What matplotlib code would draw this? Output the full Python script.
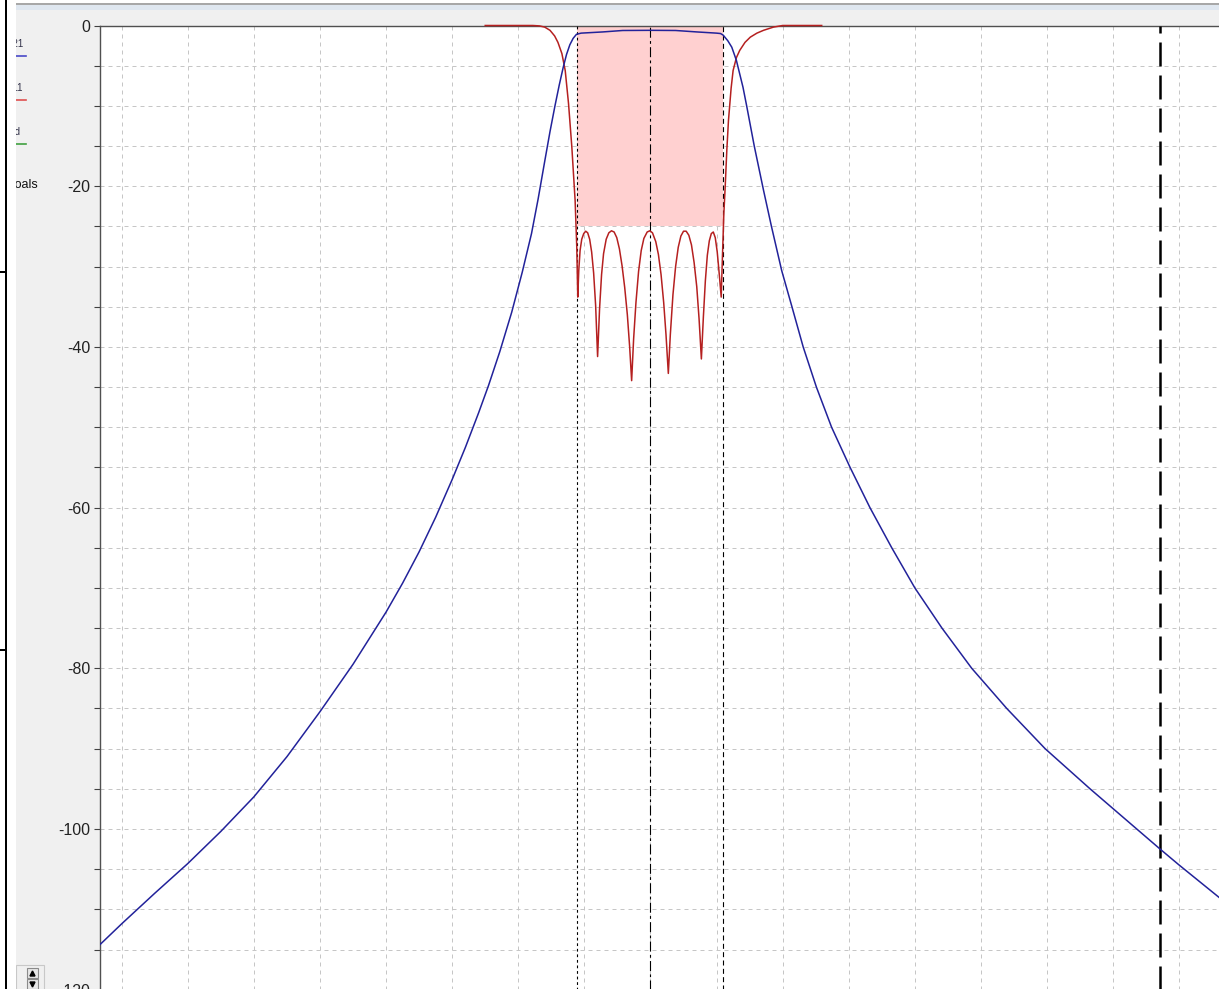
import matplotlib.pyplot as plt
from matplotlib.patches import Rectangle, Polygon
from matplotlib.ticker import MultipleLocator, FuncFormatter

plt.rcParams['font.family'] = ['Liberation Sans', 'DejaVu Sans']
plt.rcParams['axes.unicode_minus'] = False

W, H = 1219, 989

# S21 (blue), frequency in grid units, level in dB
s21_f = [-0.33, 0.0, 0.5, 1.0, 1.5, 2.0, 2.5, 3.0, 3.5, 4.0, 4.25, 4.5, 4.75,
         5.0, 5.2, 5.4, 5.55, 5.72, 5.9, 6.06, 6.2, 6.3, 6.4, 6.48, 6.555,
         6.62, 6.68, 6.73, 6.78, 6.83, 6.88, 6.95, 7.28, 7.58, 8.0, 8.38, 8.7,
         9.0, 9.06, 9.10, 9.17, 9.23, 9.30, 9.40, 9.455, 9.57, 9.71, 9.83,
         9.985, 10.14, 10.31, 10.51, 10.74, 11.02, 11.32, 11.65, 12.0, 12.41,
         12.86, 13.39, 13.97, 14.65, 15.3, 15.71, 16.0, 16.6]
s21_db = [-114.4, -111.8, -108.0, -104.3, -100.3, -96.0, -91.0, -85.4, -79.5,
          -73.0, -69.4, -65.5, -61.2, -56.5, -52.5, -48.2, -44.8, -40.6, -35.7,
          -30.7, -25.9, -21.6, -16.9, -13.2, -10.0, -7.4, -5.2, -3.6, -2.4,
          -1.6, -1.1, -0.95, -0.8, -0.62, -0.6, -0.62, -0.8, -0.95, -1.0,
          -1.2, -1.9, -2.7, -4.35, -7.7, -10.0, -15.0, -20.5, -25.0, -30.5,
          -35.0, -40.0, -45.0, -50.0, -55.0, -60.0, -65.0, -70.0, -75.0,
          -80.0, -85.0, -90.0, -95.0, -99.6, -102.5, -104.5, -108.5]

# S11 (red)
s11_f = [5.50, 6.22, 6.32, 6.40, 6.48, 6.55, 6.60, 6.66, 6.71, 6.76, 6.81,
         6.86, 6.885, 6.90, 6.915, 6.935, 6.96, 6.99, 7.02, 7.05, 7.08, 7.11,
         7.14, 7.17, 7.20, 7.23, 7.26, 7.29, 7.33, 7.37, 7.41, 7.45, 7.49,
         7.53, 7.57, 7.61, 7.65, 7.685, 7.715, 7.745, 7.78, 7.82, 7.86, 7.90,
         7.95, 7.99, 8.03, 8.08, 8.12, 8.16, 8.20, 8.235, 8.27, 8.30, 8.34,
         8.38, 8.42, 8.46, 8.50, 8.54, 8.58, 8.62, 8.66, 8.70, 8.735, 8.77,
         8.80, 8.83, 8.86, 8.89, 8.92, 8.95, 8.98, 9.01, 9.04, 9.07, 9.09,
         9.11, 9.13, 9.155, 9.18, 9.22, 9.25, 9.30, 9.35, 9.43, 9.51, 9.61,
         9.71, 9.86, 10.0, 10.59]
s11_db = [0.0, 0.0, -0.05, -0.2, -0.6, -1.3, -2.1, -3.5, -5.6, -9.7, -15.1,
          -21.8, -27.6, -33.8, -30.5, -28.0, -26.6, -25.9, -25.6, -25.8, -26.6,
          -28.2, -30.8, -34.8, -41.2, -35.2, -31.0, -28.4, -26.6, -25.8,
          -25.55, -25.7, -26.4, -27.8, -29.9, -32.6, -36.0, -40.0, -44.2,
          -39.0, -34.5, -30.6, -28.0, -26.5, -25.7, -25.55, -25.8, -26.9,
          -28.5, -31.0, -34.5, -38.5, -43.3, -38.5, -33.5, -30.0, -27.6,
          -26.2, -25.6, -25.6, -26.1, -27.3, -29.5, -32.5, -36.5, -41.5,
          -36.3, -31.8, -28.6, -26.8, -25.9, -25.7, -26.4, -28.2, -30.9,
          -33.8, -28.4, -23.4, -20.1, -15.5, -11.8, -7.8, -5.6, -4.0, -3.1,
          -2.1, -1.45, -0.95, -0.6, -0.2, 0.0, 0.0]

band_lo, band_hi, band_mid = 6.885, 9.10, 7.99
goal_db = -25
marker_f = 15.71

legend_names = ['S21', 'S11', 'Gd']
legend_colors = ['#4848c8', '#e05050', '#40a040']


def frac(x0, y0, x1, y1):
    # pixel box (top-left origin) -> figure fractions
    return (x0 / W, 1 - y1 / H), (x1 - x0) / W, (y1 - y0) / H


fig = plt.figure(figsize=(W / 100, H / 100), dpi=100)
fig.patch.set_facecolor('white')


def box(x0, y0, x1, y1, color):
    xy, w, h = frac(x0, y0, x1, y1)
    fig.add_artist(Rectangle(xy, w, h, transform=fig.transFigure,
                             facecolor=color, edgecolor='none', zorder=-1))


# window chrome
box(16, 3.3, W, 4.7, '#a8a8a8')
box(16, 4.7, W, 10, '#dfe7f0')
box(16, 10, W, 26, '#f0f0f0')
box(5, 0, 6.7, H, '#000000')
box(0, 271, 5, 272.5, '#000000')
box(0, 649, 5, 650.5, '#000000')

# left panel with clipped legend entries
side = fig.add_axes([16 / W, 0, 84 / W, (H - 10) / H])
side.set_zorder(0)
side.set_facecolor('#f0f0f0')
side.set_xlim(16, 100)
side.set_ylim(H, 10)
side.set_xticks([])
side.set_yticks([])
for s in side.spines.values():
    s.set_visible(False)

for i, (name, c) in enumerate(zip(legend_names, legend_colors)):
    ytxt = 47 + 44 * i
    side.text(7, ytxt, name, fontsize=7, color='#303048', va='baseline',
              ha='left', clip_on=True)
    side.plot([16, 26], [ytxt + 9, ytxt + 9], color=c, lw=1.2, clip_on=True)
side.text(5.3, 188, 'Goals', fontsize=9, color='#101010', va='baseline',
          ha='left', clip_on=True)

# spinner buttons at the bottom
side.add_patch(Rectangle((16, 965), 28, 30, facecolor='#f0f0f0',
                         edgecolor='#c8c8c8', lw=0.8))
side.add_patch(Rectangle((27, 968), 11, 10, facecolor='#e6e6e6',
                         edgecolor='#8a8a8a', lw=0.8))
side.add_patch(Rectangle((27, 979), 11, 10, facecolor='#e6e6e6',
                         edgecolor='#8a8a8a', lw=0.8))
side.add_patch(Polygon([(30, 976), (35, 976), (32.5, 971)], color='black'))
side.add_patch(Polygon([(30, 982), (35, 982), (32.5, 987)], color='black'))

# main plot
x_left, px_per_f = -0.328, 66.1
px_per_db, y_top = 8.035, 25.5
ylo, xhi = -124, 17.0
ax_w = (xhi - x_left) * px_per_f
ax_h = (0 - ylo) * px_per_db
ax = fig.add_axes([100 / W, 1 - (y_top + ax_h) / H, ax_w / W, ax_h / H])
ax.set_zorder(1)
ax.set_xlim(x_left, xhi)
ax.set_ylim(ylo, 0)

ax.set_xticks(range(0, 17))
ax.yaxis.set_major_locator(MultipleLocator(20))
ax.yaxis.set_minor_locator(MultipleLocator(5))
ax.yaxis.set_major_formatter(FuncFormatter(lambda v, p: f'{v:.0f}'))
ax.grid(True, which='both', color='#c6c6c6', lw=0.72, linestyle=(0, (4, 4)),
        zorder=0)
ax.tick_params(axis='y', which='both', direction='out', length=4.3,
               width=0.8, color='#404040', pad=2.9, labelsize=11.5,
               labelcolor='#222222')
ax.tick_params(axis='x', which='both', length=0, labelbottom=False)
for side_name in ('right', 'bottom'):
    ax.spines[side_name].set_visible(False)
for side_name in ('left', 'top'):
    ax.spines[side_name].set_color('#505050')
    ax.spines[side_name].set_linewidth(1)

ax.fill_between([band_lo, band_hi], goal_db, 0, color='#ffd0d0', lw=0,
                zorder=2)
ax.axvline(band_lo, color='black', lw=0.8, linestyle=(0, (2.5, 2.5)), zorder=3)
ax.axvline(band_mid, color='black', lw=0.8, linestyle=(0, (9, 3, 2.5, 3)),
           zorder=3)
ax.axvline(band_hi, color='black', lw=0.8, linestyle=(0, (4.5, 3)), zorder=3)
ax.axvline(marker_f, color='black', lw=1.8, linestyle=(0, (9.6, 3.6)),
           zorder=3)

ax.plot(s11_f, s11_db, color='#b52020', lw=1.1, zorder=4, clip_on=False)
ax.plot(s21_f, s21_db, color='#22229a', lw=1.1, zorder=5)

fig.savefig('out.png', dpi=100)
